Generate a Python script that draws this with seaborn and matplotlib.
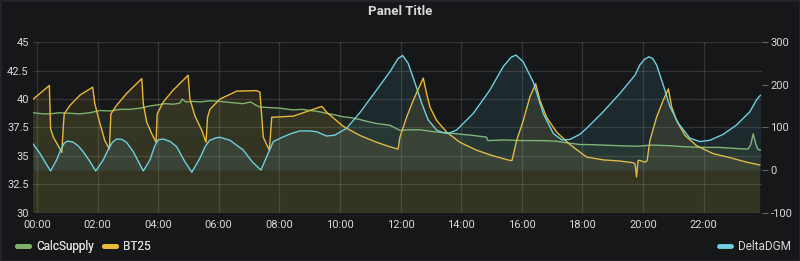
import matplotlib
matplotlib.use("Agg")
import matplotlib.pyplot as plt
import seaborn as sns
from matplotlib.lines import Line2D
from matplotlib.patches import Rectangle

# ---------------- data (hours since 00:00) ----------------
calc_hours = [-0.13, 0.20, 0.43, 0.75, 1.09, 1.40, 1.75, 2.08, 2.40, 2.74, 3.05, 3.40, 3.73, 4.00,
              4.22, 4.50, 4.72, 4.79, 4.92, 5.15, 5.38, 5.70, 6.04, 6.40, 6.80, 7.06, 7.20, 7.36,
              7.70, 8.02, 8.45, 8.75, 9.01, 9.30, 9.56, 9.85, 10.10, 10.40, 10.66, 10.95, 11.21,
              11.65, 11.98, 12.30, 12.64, 13.20, 13.85, 14.40, 14.84, 14.88, 15.40, 16.05, 16.60,
              17.13, 17.50, 17.92, 18.14, 18.70, 19.20, 19.79, 20.30, 20.89, 21.40, 21.99, 22.50,
              23.09, 23.47, 23.56, 23.64, 23.73, 23.79, 23.88]
calc_values = [38.8, 38.7, 38.7, 38.8, 38.75, 38.7, 38.8, 39.0, 38.95, 39.1, 39.1, 39.2, 39.4, 39.5,
               39.6, 39.55, 39.65, 40.0, 39.75, 39.8, 39.75, 39.85, 39.8, 39.7, 39.6, 39.75, 39.5, 39.3,
               39.25, 39.2, 39.05, 39.1, 39.0, 38.9, 38.75, 38.6, 38.45, 38.35, 38.2, 38.0, 37.85,
               37.7, 37.25, 37.3, 37.3, 37.1, 36.95, 36.8, 36.65, 36.35, 36.4, 36.35, 36.35,
               36.3, 36.15, 36.0, 36.0, 35.95, 35.9, 35.85, 35.95, 35.9, 35.8, 35.75, 35.75,
               35.65, 35.6, 36.0, 36.95, 36.0, 35.6, 35.5]

bt25_hours = [-0.12, 0.10, 0.41, 0.45, 0.54, 0.70, 0.82, 0.87, 0.90, 1.09, 1.42, 1.84, 1.91, 2.08,
              2.24, 2.39, 2.44, 2.63, 2.96, 3.46, 3.51, 3.62, 3.79, 3.93, 3.97, 4.17, 4.50, 4.99,
              5.05, 5.21, 5.44, 5.58, 5.63, 5.71, 6.04, 6.59, 7.25, 7.36, 7.47, 7.67, 7.75, 8.46,
              9.34, 9.41, 9.56, 10.11, 10.66, 11.21, 11.65, 11.92, 11.98, 12.20, 12.42, 12.64,
              12.75, 12.86, 12.97, 13.19, 13.52, 13.96, 14.51, 15.06, 15.61, 15.68, 15.83, 16.05,
              16.27, 16.46, 16.60, 16.82, 17.15, 17.59, 18.14, 18.69, 19.24, 19.68, 19.74, 19.79,
              19.84, 19.90, 20.07, 20.14, 20.23, 20.45, 20.67, 20.84, 20.95, 21.11, 21.39, 21.77,
              22.32, 22.87, 23.42, 23.86]
bt25_values = [40.0, 40.5, 41.2, 37.4, 36.65, 35.9, 35.3, 37.55, 38.7, 39.45, 40.35, 41.05, 39.6, 37.85,
               36.35, 35.6, 38.7, 39.45, 40.5, 41.8, 39.6, 38.0, 36.95, 36.2, 38.7, 39.75, 40.8, 42.1,
               40.0, 38.55, 37.25, 36.2, 38.4, 39.1, 40.0, 40.7, 40.75, 40.6, 36.65, 35.5, 38.4, 38.5,
               39.3, 39.35, 38.85, 37.6, 36.8, 36.2, 35.8, 35.6, 36.65, 38.4, 39.9, 41.2,
               41.85, 40.5, 39.3, 38.13, 37.1, 36.2, 35.5, 35.0, 34.6, 34.6, 36.35, 38.1,
               40.2, 41.35, 39.9, 38.4, 37.1, 36.0, 34.9, 34.65, 34.55, 34.4, 34.3, 33.15,
               34.6, 34.6, 34.45, 34.6, 36.35, 38.4, 39.9, 40.9, 39.3, 38.1, 36.8, 35.9,
               35.2, 34.85, 34.45, 34.2]

delta_hours = [-0.12, 0.10, 0.26, 0.45, 0.65, 0.80, 0.90, 1.00, 1.19, 1.36, 1.53, 1.75, 1.94, 2.19,
               2.36, 2.50, 2.63, 2.80, 2.96, 3.18, 3.51, 3.73, 3.88, 4.00, 4.17, 4.40, 4.61, 4.88,
               5.11, 5.38, 5.55, 5.70, 5.93, 6.04, 6.37, 6.81, 7.10, 7.39, 7.58, 7.80, 8.13, 8.40,
               8.68, 9.00, 9.23, 9.56, 9.83, 10.22, 10.66, 11.21, 11.65, 11.92, 12.07, 12.25, 12.48,
               12.70, 12.91, 13.19, 13.40, 13.57, 13.85, 14.40, 14.95, 15.39, 15.65, 15.81, 16.05,
               16.38, 16.71, 17.04, 17.32, 17.59, 17.92, 18.14, 18.69, 19.24, 19.74, 19.90, 20.05,
               20.20, 20.32, 20.45, 20.67, 20.89, 21.17, 21.55, 21.88, 22.21, 22.65, 23.09, 23.53,
               23.75, 23.88]
delta_values = [61, 39, 20, -2, 24, 50, 63, 68, 66, 57, 43, 20, -2, 24,
                50, 66, 73, 72, 65, 43, -2, 24, 55, 71, 73, 67, 55, 20,
                -5, 28, 55, 70, 76, 77, 70, 47, 20, 0, 31, 67, 78, 86,
                92, 92, 90, 80, 82, 98, 135, 188, 231, 262, 269, 251, 204,
                157, 118, 94, 88, 86, 94, 133, 188, 243, 265, 270, 254,
                207, 133, 86, 71, 72, 84, 98, 137, 180, 223, 247, 260,
                266, 262, 247, 200, 149, 110, 75, 67, 70, 84, 106, 137,
                165, 176]

left_ticks = [30, 32.5, 35, 37.5, 40, 42.5, 45]
left_tick_labels = ["30", "32.5", "35", "37.5", "40", "42.5", "45"]
right_ticks = [-100, 0, 100, 200, 300]
x_ticks = list(range(0, 24, 2))
x_tick_labels = [f"{h:02d}:00" for h in x_ticks]

# ---------------- style ----------------
sns.set_theme(style="dark")
plt.rcParams['font.family'] = ['Roboto', 'DejaVu Sans']

BG = '#161719'
TXT = '#d8d9da'
GREEN = '#7EB26D'
YELLOW = '#EAB839'
BLUE = '#6ED0E0'

fig = plt.figure(figsize=(8, 2.61), dpi=100, facecolor=BG)
ax = fig.add_axes([33 / 800, 1 - 212.7 / 261, 729 / 800, 170.4 / 261])
ax.set_facecolor(BG)
ax2 = ax.twinx()
ax2.patch.set_visible(False)

# left axis series
ax.fill_between(calc_hours, calc_values, 0, color=GREEN, alpha=0.1, lw=0)
ax.fill_between(bt25_hours, bt25_values, 0, color=YELLOW, alpha=0.1, lw=0)
sns.lineplot(x=calc_hours, y=calc_values, ax=ax, color=GREEN, lw=1)
sns.lineplot(x=bt25_hours, y=bt25_values, ax=ax, color=YELLOW, lw=1)

# right axis series
ax2.fill_between(delta_hours, delta_values, 0, color=BLUE, alpha=0.1, lw=0)
sns.lineplot(x=delta_hours, y=delta_values, ax=ax2, color=BLUE, lw=1)

ax.set_xlim(-0.13, 23.93)
ax.set_ylim(30, 45)
ax2.set_ylim(-100, 300)

ax.set_xticks(x_ticks)
ax.set_xticklabels(x_tick_labels)
ax.set_yticks(left_ticks)
ax.set_yticklabels(left_tick_labels)
ax2.set_yticks(right_ticks)
ax2.set_yticklabels([str(v) for v in right_ticks])

ax.set_axisbelow('line')
ax.grid(True, color='#ffffff', alpha=0.12, lw=0.9)
ax2.grid(False)

for a in (ax, ax2):
    for s in a.spines.values():
        s.set_visible(False)
    a.set_xlabel("")
    a.set_ylabel("")

ax.tick_params(axis='both', colors=TXT, labelsize=8, length=0)
ax.tick_params(axis='y', pad=3)
ax.tick_params(axis='x', pad=5)
ax2.tick_params(axis='y', colors='#666666', labelcolor=TXT, labelsize=8, length=4, width=0.8, pad=2)

fig.text(0.5, 1 - 12 / 261, 'Panel Title', ha='center', va='center',
         fontsize=9.5, fontweight='bold', color=TXT)

leg1 = fig.legend(handles=[Line2D([], [], color=GREEN, lw=3.5), Line2D([], [], color=YELLOW, lw=3.5)],
                  labels=['CalcSupply', 'BT25'], loc='center left', bbox_to_anchor=(17 / 800, 1 - 246.5 / 261),
                  ncol=2, frameon=False, fontsize=8.5, labelcolor=TXT, handlelength=1.0,
                  handletextpad=0.6, columnspacing=0.9, borderpad=0, borderaxespad=0)
leg2 = fig.legend(handles=[Line2D([], [], color=BLUE, lw=3.5)], labels=['DeltaDGM'],
                  loc='center right', bbox_to_anchor=(791 / 800, 1 - 246.5 / 261),
                  frameon=False, fontsize=8.5, labelcolor=TXT, handlelength=1.0,
                  handletextpad=0.6, borderpad=0, borderaxespad=0)
fig.add_artist(leg1)

fig.patches.append(Rectangle((0, 0), 1, 1, transform=fig.transFigure, fill=False,
                             edgecolor='#232528', lw=2))

fig.savefig('out.png', dpi=100, facecolor=BG)
